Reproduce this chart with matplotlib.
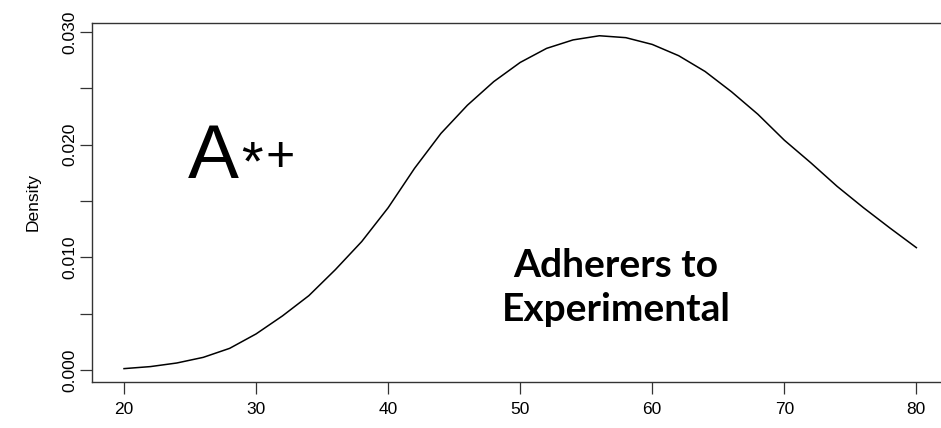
import matplotlib
matplotlib.use("Agg")
import matplotlib.pyplot as plt

# density curve
age = [20, 22, 24, 26, 28, 30, 32, 34, 36, 38, 40, 42, 44, 46, 48, 50,
       52, 54, 56, 58, 60, 62, 64, 66, 68, 70, 72, 74, 76, 78, 80]
density = [0.00012, 0.00030, 0.00062, 0.00112, 0.00192, 0.0032, 0.0048,
           0.0066, 0.0089, 0.0114, 0.0144, 0.0179, 0.0210, 0.0235, 0.0256,
           0.0273, 0.02855, 0.0293, 0.02967, 0.0295, 0.0289, 0.0279,
           0.0265, 0.0247, 0.0227, 0.0204, 0.0184, 0.0163, 0.0144, 0.0126,
           0.01086]

x_ticks = [20, 30, 40, 50, 60, 70, 80]
y_ticks = [0.000, 0.005, 0.010, 0.015, 0.020, 0.025, 0.030]
y_labels = ["0.000", "", "0.010", "", "0.020", "", "0.030"]

font_size = 12.5

fig = plt.figure(figsize=(9.41, 4.28), dpi=100)
ax = fig.add_axes([0.0981, 0.1082, 0.9094, 0.8388])

ax.plot(age, density, color="black", linewidth=1.1)

ax.set_xlim(17.6, 82.4)
ax.set_ylim(-0.00104, 0.03083)

ax.set_xticks(x_ticks)
ax.set_xticklabels([str(v) for v in x_ticks], fontsize=font_size,
                   family="Liberation Sans")
ax.set_yticks(y_ticks)
ax.set_yticklabels(y_labels, fontsize=font_size, family="Liberation Sans",
                   rotation=90, va="center")
ax.tick_params(direction="out", length=8.6, width=0.9, color="#333333")
ax.tick_params(axis="x", pad=6)
ax.tick_params(axis="y", pad=2)
for s in ax.spines.values():
    s.set_linewidth(1.0)
    s.set_color("#333333")

ax.set_ylabel("Density", fontsize=font_size, family="Liberation Sans",
              labelpad=16)

# panel letter with markers
ax.text(24.8, 0.0188, "A", fontsize=55, family="Liberation Sans",
        ha="left", va="center")
ax.text(28.85, 0.0182, "*", fontsize=40, family="Liberation Sans",
        ha="left", va="center")
ax.text(30.75, 0.0188, "+", fontsize=36, family="Liberation Sans",
        ha="left", va="center")

ax.text(0.612, 0.262, "Adherers to\nExperimental", transform=ax.transAxes,
        fontsize=28, family="Lato", fontweight="bold", ha="center",
        va="center", linespacing=1.3)

plt.savefig("out.png", dpi=100)
